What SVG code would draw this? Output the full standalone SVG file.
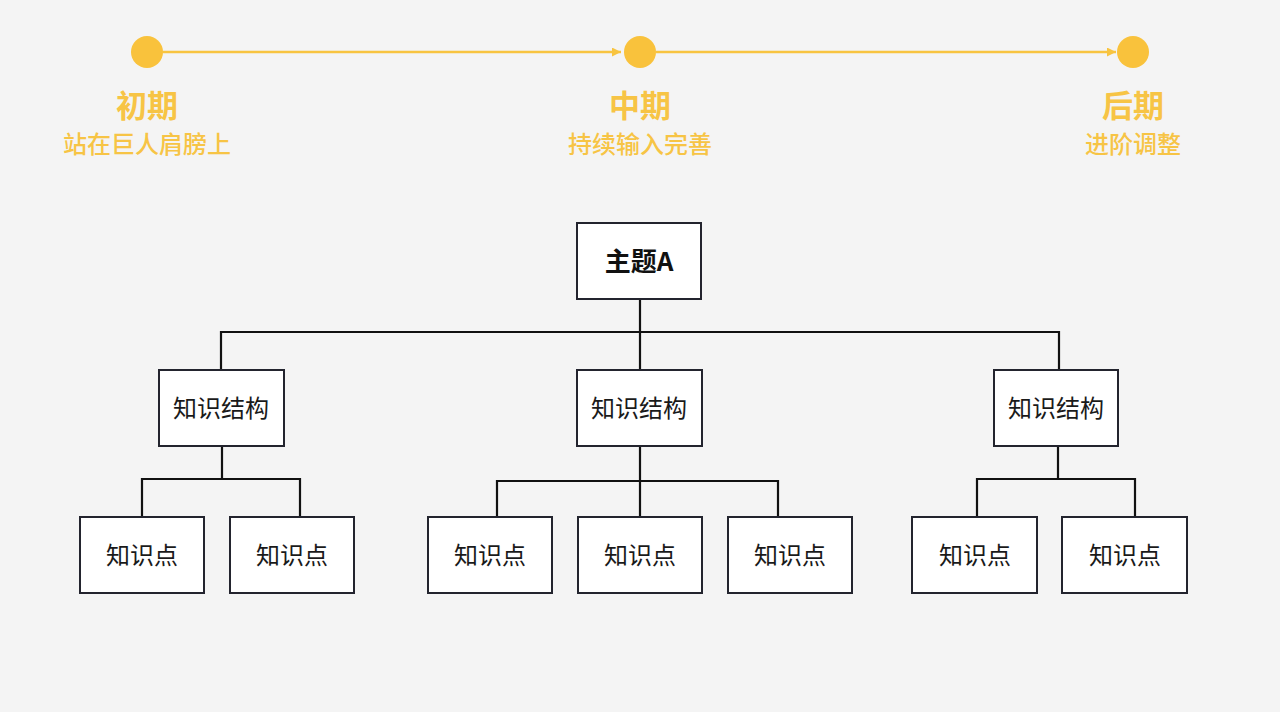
<svg xmlns="http://www.w3.org/2000/svg" width="1280" height="712" viewBox="0 0 1280 712">
<defs>
<style>
.tl{stroke:#F8C440;stroke-width:2.5;fill:none}
.dot{fill:#F9C23C}
.t1{font-family:"Noto Sans CJK SC","Noto Sans",sans-serif;font-weight:bold;font-size:31px;fill:#F7C445;text-anchor:middle}
.t2{font-family:"Noto Sans CJK SC","Noto Sans",sans-serif;font-weight:500;font-size:24px;fill:#F7C445;text-anchor:middle}
.box{fill:#FFFFFF;stroke:#23242E;stroke-width:2}
.lbl{font-family:"Noto Sans CJK SC","Noto Sans",sans-serif;font-size:24px;fill:#1A1A1A;text-anchor:middle;dominant-baseline:central}
.lblb{font-family:"Noto Sans CJK SC","Noto Sans",sans-serif;font-size:26px;font-weight:bold;fill:#111;text-anchor:middle;dominant-baseline:central}
.con{stroke:#111111;stroke-width:2.2;fill:none}
</style>
<marker id="arr" viewBox="0 0 10 10" refX="10" refY="5" markerWidth="9" markerHeight="9" markerUnits="userSpaceOnUse" orient="auto">
<path d="M0,0 L10,5 L0,10 z" fill="#F8C440"/>
</marker>
</defs>
<rect width="1280" height="712" fill="#F4F4F4"/>
<g id="timeline">
<line class="tl" x1="163" y1="52" x2="621" y2="52" marker-end="url(#arr)"/>
<line class="tl" x1="656" y1="52" x2="1116" y2="52" marker-end="url(#arr)"/>
<g id="stage1"><circle class="dot" cx="147" cy="52" r="16"/><text class="t1" x="147" y="117">初期</text><text class="t2" x="147" y="153">站在巨人肩膀上</text></g>
<g id="stage2"><circle class="dot" cx="640" cy="52" r="16"/><text class="t1" x="640" y="117">中期</text><text class="t2" x="640" y="153">持续输入完善</text></g>
<g id="stage3"><circle class="dot" cx="1133" cy="52" r="16"/><text class="t1" x="1133" y="117">后期</text><text class="t2" x="1133" y="153">进阶调整</text></g>
</g>
<g id="connectors">
<path class="con" d="M640,299 V332 M221,370 V332 H1059 V370 M640,332 V370"/>
<path class="con" d="M222,446 V479 M142,517 V479 H300 V517"/>
<path class="con" d="M640,446 V481 M497,517 V481 H778 V517 M640,481 V517"/>
<path class="con" d="M1058,446 V479 M977,517 V479 H1135 V517"/>
</g>
<g id="root"><rect class="box" x="577" y="223" width="124" height="76"/><text class="lblb" x="639" y="259">主题A</text></g>
<g id="s1"><rect class="box" x="159" y="370" width="125" height="76"/><text class="lbl" x="221" y="406">知识结构</text></g>
<g id="s2"><rect class="box" x="577" y="370" width="125" height="76"/><text class="lbl" x="639" y="406">知识结构</text></g>
<g id="s3"><rect class="box" x="994" y="370" width="124" height="76"/><text class="lbl" x="1056" y="406">知识结构</text></g>
<g id="p1"><rect class="box" x="80" y="517" width="124" height="76"/><text class="lbl" x="142" y="553">知识点</text></g>
<g id="p2"><rect class="box" x="230" y="517" width="124" height="76"/><text class="lbl" x="292" y="553">知识点</text></g>
<g id="p3"><rect class="box" x="428" y="517" width="124" height="76"/><text class="lbl" x="490" y="553">知识点</text></g>
<g id="p4"><rect class="box" x="578" y="517" width="124" height="76"/><text class="lbl" x="640" y="553">知识点</text></g>
<g id="p5"><rect class="box" x="728" y="517" width="124" height="76"/><text class="lbl" x="790" y="553">知识点</text></g>
<g id="p6"><rect class="box" x="912" y="517" width="125" height="76"/><text class="lbl" x="975" y="553">知识点</text></g>
<g id="p7"><rect class="box" x="1062" y="517" width="125" height="76"/><text class="lbl" x="1125" y="553">知识点</text></g>
</svg>
